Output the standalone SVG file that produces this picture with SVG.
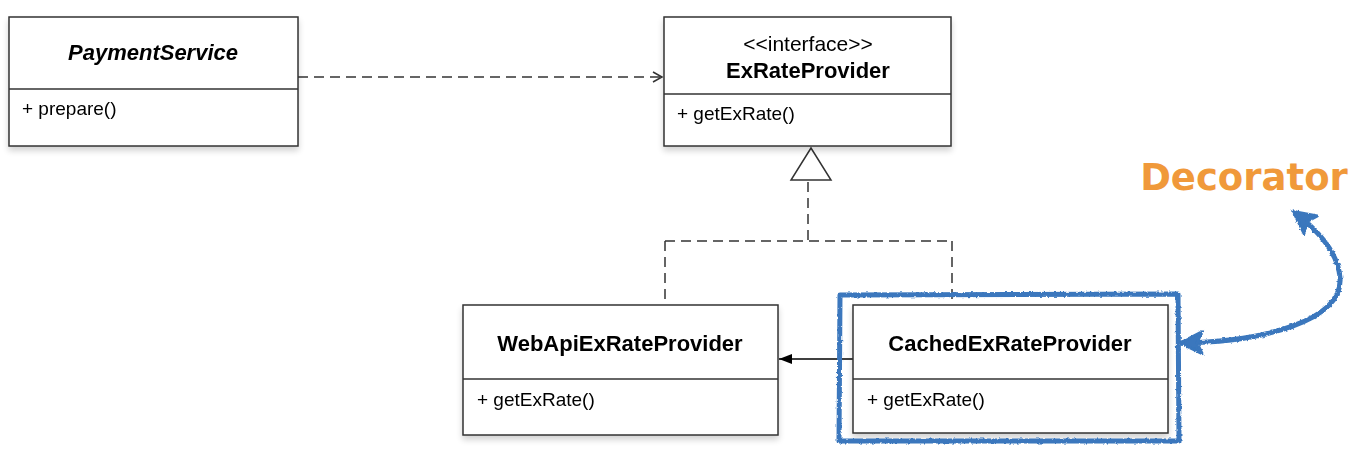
<svg xmlns="http://www.w3.org/2000/svg" width="1360" height="460" viewBox="0 0 1360 460">
<style>
.box{fill:#fff;stroke:#333;stroke-width:1.5}
.div{stroke:#333;stroke-width:1.5}
.t{font-family:"Liberation Sans",Arial,sans-serif;fill:#000}
.title{font-size:22px;font-weight:bold}
.mem{font-size:19px}
.dash{fill:none;stroke:#333;stroke-width:1.5;stroke-dasharray:10 6}
.blue{fill:none;stroke:#3a77bd;stroke-width:5;stroke-linejoin:round;stroke-linecap:round}
</style>
<defs>
<filter id="sh" x="-10%" y="-10%" width="120%" height="130%">
<feGaussianBlur in="SourceAlpha" stdDeviation="3"/>
<feOffset dx="0" dy="4"/>
<feComponentTransfer><feFuncA type="linear" slope="0.18"/></feComponentTransfer>
<feMerge><feMergeNode/><feMergeNode in="SourceGraphic"/></feMerge>
</filter>
<filter id="rough" x="-5%" y="-5%" width="110%" height="110%">
<feTurbulence type="fractalNoise" baseFrequency="0.35" numOctaves="2" seed="3" result="n"/>
<feDisplacementMap in="SourceGraphic" in2="n" scale="3" xChannelSelector="R" yChannelSelector="G"/>
</filter>
<marker id="open" markerWidth="14" markerHeight="14" refX="12" refY="7" orient="auto" markerUnits="userSpaceOnUse">
<path d="M3,2 L12,7 L3,12" fill="none" stroke="#333" stroke-width="1.5"/>
</marker>
<marker id="fill" markerWidth="14" markerHeight="12" refX="13" refY="6" orient="auto" markerUnits="userSpaceOnUse">
<path d="M0,1 L13,6 L0,11 Z" fill="#000"/>
</marker>
<marker id="bluehead" markerWidth="30" markerHeight="30" refX="24" refY="15" orient="auto-start-reverse" markerUnits="userSpaceOnUse">
<path d="M3,4 L25,15 L3,26 L8,15 Z" fill="#3a77bd" stroke="#3a77bd" stroke-width="3" stroke-linejoin="round"/>
</marker>
</defs>

<g id="connectors">
<line class="dash" x1="298" y1="77" x2="662" y2="77" marker-end="url(#open)"/>
<path class="dash" d="M808,182 L808,241 M665,241 L952,241 M665,241 L665,303 M952,241 L952,303"/>
<polygon points="811,148 791,180 831,180" fill="#fff" stroke="#333" stroke-width="1.5"/>
<line x1="853" y1="359" x2="779" y2="359" stroke="#000" stroke-width="1.5" marker-end="url(#fill)"/>
</g>

<g id="PaymentService" filter="url(#sh)">
<rect class="box" x="9" y="17" width="289" height="129"/>
<line class="div" x1="9" y1="89" x2="298" y2="89"/>
<text class="t title" x="153" y="60" text-anchor="middle" font-style="italic">PaymentService</text>
<text class="t mem" x="22" y="115">+ prepare()</text>
</g>

<g id="ExRateProvider" filter="url(#sh)">
<rect class="box" x="664" y="17" width="287" height="129"/>
<line class="div" x1="664" y1="94" x2="951" y2="94"/>
<text class="t" x="808" y="51" text-anchor="middle" font-size="21">&lt;&lt;interface&gt;&gt;</text>
<text class="t title" x="808" y="78" text-anchor="middle">ExRateProvider</text>
<text class="t mem" x="677" y="120">+ getExRate()</text>
</g>

<g id="WebApiExRateProvider" filter="url(#sh)">
<rect class="box" x="463" y="305" width="315" height="130"/>
<line class="div" x1="463" y1="379" x2="778" y2="379"/>
<text class="t title" x="620" y="351" text-anchor="middle">WebApiExRateProvider</text>
<text class="t mem" x="477" y="406">+ getExRate()</text>
</g>

<g id="CachedExRateProvider" filter="url(#sh)">
<rect class="box" x="853" y="305" width="315" height="128"/>
<line class="div" x1="853" y1="379" x2="1168" y2="379"/>
<text class="t title" x="1010" y="351" text-anchor="middle">CachedExRateProvider</text>
<text class="t mem" x="867" y="406">+ getExRate()</text>
</g>

<g id="decorator">
<g filter="url(#rough)">
<path class="blue" d="M840,295 L1178,294 L1179,441 L839,441 Z"/>
<path class="blue" stroke-width="3.5" d="M1181,343 C1265,342 1343,320 1340,278 C1338,250 1315,228 1294,212" marker-start="url(#bluehead)" marker-end="url(#bluehead)"/>
</g>
<text x="1244" y="190" text-anchor="middle" font-family="'DejaVu Sans',sans-serif" font-weight="bold" font-size="37" fill="#f0993a">Decorator</text>
</g>
</svg>
